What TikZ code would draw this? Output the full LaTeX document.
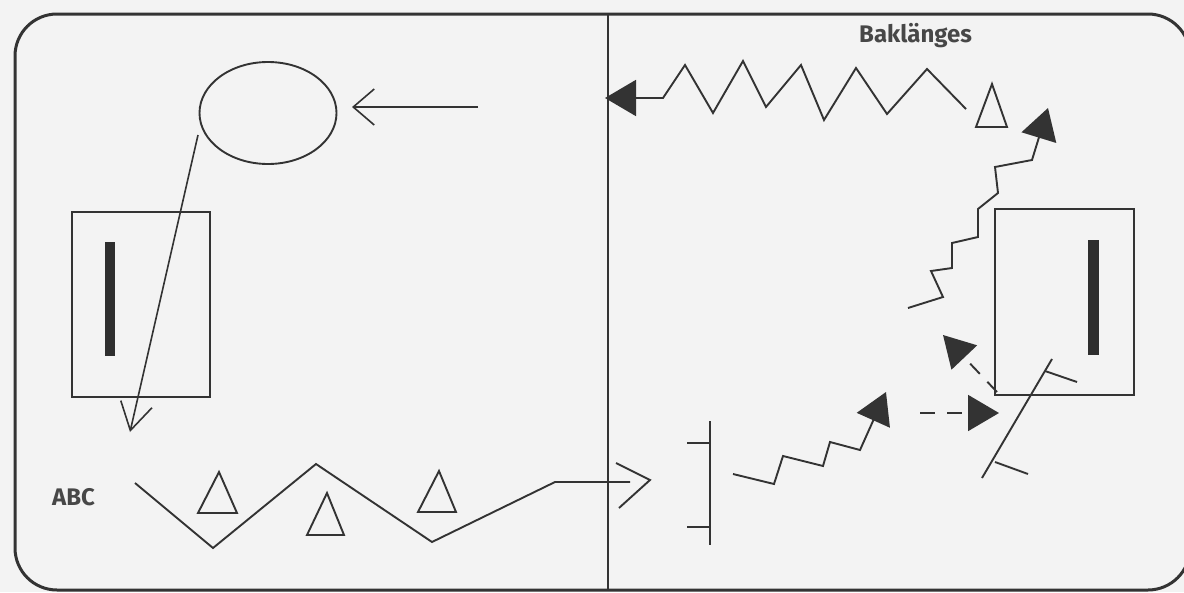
\documentclass[tikz,border=0pt]{standalone}
\usepackage{fontspec}
\setmainfont{Fira Sans}
\usetikzlibrary{arrows.meta,shapes.geometric}
\definecolor{ink}{HTML}{333333}
\definecolor{paper}{HTML}{F3F3F3}
\begin{document}
\begin{tikzpicture}[x=1pt,y=-1pt,
  ln/.style={draw=ink, line width=1.9pt, line join=miter},
  fine/.style={draw=ink, line width=1.6pt},
  bigtip/.style={-{Triangle[length=31pt,width=36pt,fill=ink]}},
  bar/.style={fill=ink!90!black, draw=none},
  tri/.style={ln, line join=miter},
  lbl/.style={font=\fontsize{24}{27}\selectfont\bfseries, text=ink!90, inner sep=0pt, anchor=base west}
]
% canvas
\useasboundingbox (0,0) rectangle (1184,592);
\fill[paper] (0,0) rectangle (1184,592);
% frame and divider
\draw[draw=ink, line width=3pt, rounded corners=42pt] (15,14) rectangle (1190,590);
\coordinate (dtop) at (608,14);
\coordinate (dbot) at (608,590);
\draw[fine] (dtop) -- (dbot);

% ---------- left half ----------
\node[ln, ellipse, minimum width=137pt, minimum height=102pt, inner sep=0pt] (ell) at (268,113) {};
\coordinate (e1) at (478,107);
\coordinate (e2) at (352,107);
\draw[fine, -{Straight Barb[length=21pt,width=36pt]}] (e1) -- (e2);

\node[ln, rectangle, minimum width=138pt, minimum height=185pt, inner sep=0pt] (lbox) at (141,304.5) {};
\fill[bar] (105,242) rectangle (115,356);

\coordinate (a1) at (198,135);
\coordinate (a2) at (130,432);
\draw[fine, -{Straight Barb[length=27pt,width=32pt]}] (a1) -- (a2);

\node[lbl] (abc) at (52,505) {ABC};

% zigzag with open arrow
\coordinate (z0) at (135,483);
\coordinate (z1) at (213,548);
\coordinate (z2) at (316,464);
\coordinate (z3) at (432,542);
\coordinate (z4) at (555,482);
\coordinate (z5) at (630,482);
\draw[ln] (z0) -- (z1) -- (z2) -- (z3) -- (z4) -- (z5);
\coordinate (ch1) at (616,463);
\coordinate (cht) at (650,480);
\coordinate (ch2) at (619,508);
\draw[ln] (ch1) -- (cht) -- (ch2);

% small triangles
\draw[tri] (219,472) -- (237,513) -- (198,513) -- cycle;
\draw[tri] (327,493) -- (344,535) -- (307,535) -- cycle;
\draw[tri] (439,471) -- (456,512) -- (418,512) -- cycle;

% ---------- right half ----------
\node[lbl] (bak) at (859,42) {Baklänges};

% top zigzag arrow to divider
\draw[ln, bigtip] (966,109) -- (927,69) -- (887,114) -- (856,68) -- (824,120) -- (801,65)
  -- (766,107) -- (743,61) -- (713,113) -- (685,65) -- (663,98) -- (605,98);
\draw[tri] (992,84) -- (1007,127) -- (976,127) -- cycle;

% right box
\node[ln, rectangle, minimum width=139pt, minimum height=186pt, inner sep=0pt] (rbox) at (1064.5,302) {};
\fill[bar] (1088,240) rectangle (1099,355);

% right stair zigzag
\draw[ln, bigtip] (908,308) -- (943,297) -- (931,271) -- (952,268) -- (952,243) -- (978,237)
  -- (978,209) -- (998,193) -- (995,167) -- (1032,160) -- (1048,108);

% left tick line
\coordinate (v1) at (710,421);
\coordinate (v2) at (710,545);
\draw[ln] (v1) -- (v2);
\draw[ln] (687,443) -- (710,443);
\draw[ln] (687,527) -- (710,527);

% bottom stair zigzag
\draw[ln, bigtip] (733,474) -- (774,484) -- (783,456) -- (823,466) -- (830,442) -- (860,450) -- (886,392);

% dashed arrows
\draw[ln, dash pattern=on 15pt off 12pt, -{Triangle[length=31pt,width=36pt,fill=ink]}] (920,413) -- (999,413);
\draw[ln, dash pattern=on 14pt off 11pt, -{Triangle[length=31pt,width=35pt,fill=ink]}] (997,392) -- (943,335);

% slanted tick line
\coordinate (s1) at (1052,359);
\coordinate (s2) at (982,478);
\draw[ln] (s1) -- (s2);
\draw[ln] (1045,371) -- (1077,382);
\draw[ln] (995,462) -- (1028,474);
\end{tikzpicture}
\end{document}
